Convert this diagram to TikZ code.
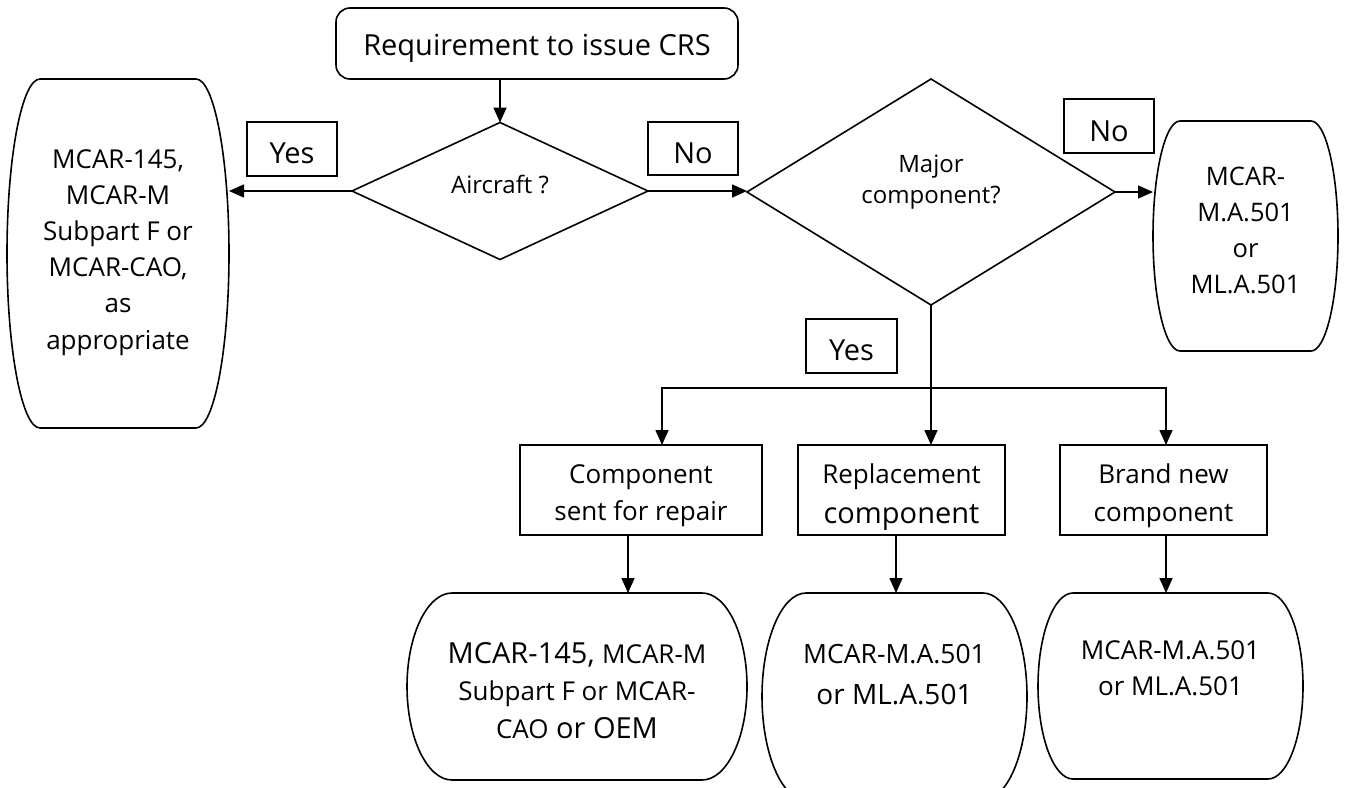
\documentclass[tikz,border=0pt]{standalone}
\usepackage{fontspec}
\setmainfont{Open Sans}
\usetikzlibrary{shapes.geometric,arrows.meta,calc}
\newcommand\tx[2]{\makebox[0pt]{\raisebox{#1pt}[0pt][0pt]{\parbox[t]{420pt}{\centering #2}}}}
\newcommand\fs[2]{\fontsize{#1pt}{#2pt}\selectfont}
\newcommand\barrel[2]{%
  \draw[shapeline] ([xshift=#2pt]#1.north west) -- ([xshift=-#2pt]#1.north east)
    .. controls ([xshift={-0.45*#2pt}]#1.north east) and ($(#1.north east)!0.45!(#1.east)$) .. (#1.east)
    .. controls ($(#1.south east)!0.45!(#1.east)$) and ([xshift={-0.45*#2pt}]#1.south east) .. ([xshift=-#2pt]#1.south east)
    -- ([xshift=#2pt]#1.south west)
    .. controls ([xshift={0.45*#2pt}]#1.south west) and ($(#1.south west)!0.45!(#1.west)$) .. (#1.west)
    .. controls ($(#1.north west)!0.45!(#1.west)$) and ([xshift={0.45*#2pt}]#1.north west) .. cycle;}
\begin{document}
\begin{tikzpicture}[x=1pt,y=-1pt,line width=1.6pt,
  every node/.style={inner sep=0pt,outer sep=0pt,line width=1.6pt},
  box/.style={draw,rectangle},
  rbox/.style={draw,rectangle,rounded corners=14pt},
  dia/.style={draw,diamond},
  bar/.style={rectangle},
  lab/.style={draw,rectangle,font=\fs{29}{36}},
  shapeline/.style={draw,line width=1.6pt},
  arr/.style={-{Triangle[length=15pt,width=13pt]}},
  darr/.style={{Triangle[length=15pt,width=13pt]}-{Triangle[length=15pt,width=13pt]}}]
\useasboundingbox (0,0) rectangle (1346,787);
\fill[white] (0,0) rectangle (1346,787);

\node[rbox,minimum width=402pt,minimum height=71pt,font=\fs{29}{36}] (top) at (537,43.5) {\tx{-11.5}{Requirement to issue CRS}};
\node[dia,minimum width=296pt,minimum height=137pt,font=\fs{24}{31}] (d1) at (500,191) {\tx{-2}{Aircraft ?}};
\node[dia,minimum width=368pt,minimum height=226pt,font=\fs{24}{31}] (d2) at (931,192) {\tx{20}{Major\\component?}};
\node[bar,minimum width=222pt,minimum height=349pt,font=\fs{26}{36.2}] (L) at (118,253.5) {\tx{85.5}{MCAR-145,\\MCAR-M\\Subpart F or\\MCAR-CAO,\\as\\appropriate}};
\node[bar,minimum width=185pt,minimum height=230pt,font=\fs{25.5}{36}] (R) at (1245.5,236) {\tx{51}{MCAR-\\M.A.501\\or\\ML.A.501}};

\node[lab,minimum width=90pt,minimum height=54pt] (yes1) at (292,149) {\tx{-14}{Yes}};
\node[lab,minimum width=90pt,minimum height=53pt] (no1) at (693,148.5) {\tx{-14.5}{No}};
\node[lab,minimum width=90pt,minimum height=54pt] (no2) at (1109,126) {\tx{-15}{No}};
\node[lab,minimum width=91pt,minimum height=54pt] (yes2) at (851.5,346) {\tx{-14}{Yes}};

\node[box,minimum width=242pt,minimum height=90pt,font=\fs{26}{37}] (b1) at (641,490) {\tx{7}{Component\\sent for repair}};
\node[box,minimum width=207pt,minimum height=90pt,font=\fs{26}{40}] (b2) at (901.5,490) {\tx{7}{Replacement\\{\fs{29}{40}component}}};
\node[box,minimum width=207pt,minimum height=90pt,font=\fs{26}{38}] (b3) at (1163.5,490) {\tx{7}{Brand new\\component}};

\node[bar,minimum width=340pt,minimum height=187pt,font=\fs{29}{37.5}] (n1) at (577,686.5) {\tx{23.5}{MCAR-145, {\fs{26}{37.5}MCAR-M}\\{\fs{26}{37.5}Subpart F or MCAR-}\\{\fs{26}{37.5}CAO} or OEM}};
\node[bar,minimum width=265pt,minimum height=207pt,font=\fs{28}{41}] (n2) at (894.5,696.5) {\tx{33.5}{{\fs{26.5}{41}MCAR-M.A.501}\\or ML.A.501}};
\node[bar,minimum width=265pt,minimum height=186pt,font=\fs{26}{36}] (n3) at (1170.5,686) {\tx{27}{MCAR-M.A.501\\or ML.A.501}};

\barrel{L}{33}
\barrel{R}{27}
\barrel{n1}{45}
\barrel{n2}{44}
\barrel{n3}{35}

\draw[arr] (d1.north |- top.south) -- (d1.north);
\draw[arr] (d1.west) -- (d1.west -| L.east);
\draw[arr] (d1.east) -- (d1.east -| d2.west);
\draw[arr] (d2.east) -- (d2.east -| R.west);
\draw[arr] (d2.south) -- (d2.south |- b2.north);
\coordinate (bl) at (662,388);
\coordinate (bR) at (1166,388);
\draw[darr] (bl |- b1.north) -- (bl) -- (bR) -- (bR |- b3.north);
\coordinate (c1) at (628,0);
\coordinate (c2) at (896,0);
\coordinate (c3) at (1166,0);
\draw[arr] (b1.south -| c1) -- (n1.north -| c1);
\draw[arr] (b2.south -| c2) -- (n2.north -| c2);
\draw[arr] (b3.south -| c3) -- (n3.north -| c3);
\end{tikzpicture}
\end{document}
